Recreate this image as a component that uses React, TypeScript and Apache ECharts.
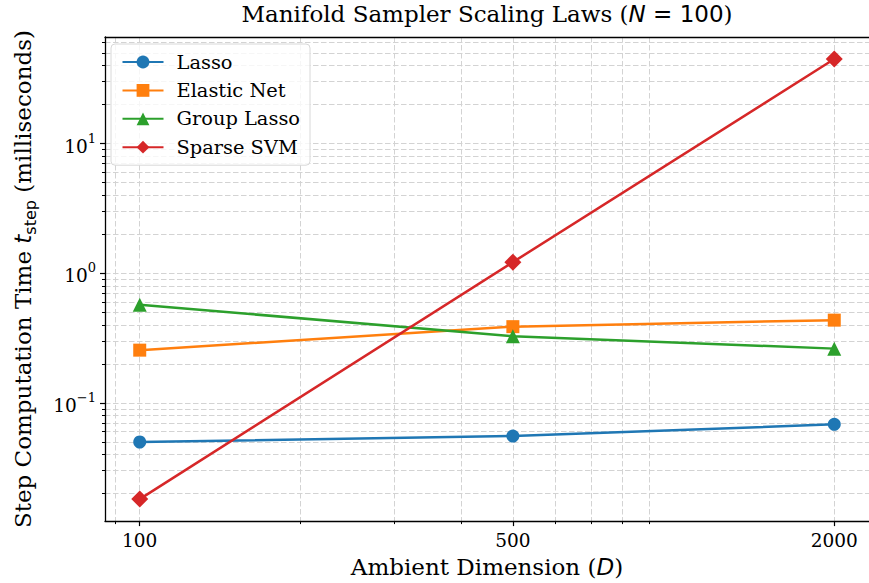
import React, { useEffect, useRef } from "react";
import * as echarts from "echarts";

// ---- data ----
const dims = [100, 500, 2000];
const seriesNames = ["Lasso", "Elastic Net", "Group Lasso", "Sparse SVM"];
const lasso = [0.0499, 0.0555, 0.0683];
const elasticNet = [0.255, 0.387, 0.4345];
const groupLasso = [0.571, 0.327, 0.262];
const sparseSVM = [0.0181, 1.217, 44.9];

const xMajorTicks = [100, 500, 2000];
const xMinorTicks = [90, 200, 300, 400, 600, 700, 800, 900];
const yMajorTicks = [0.1, 1, 10];
const yMinorTicks = [
  0.02, 0.03, 0.04, 0.05, 0.06, 0.07, 0.08, 0.09,
  0.2, 0.3, 0.4, 0.5, 0.6, 0.7, 0.8, 0.9,
  2, 3, 4, 5, 6, 7, 8, 9,
  20, 30, 40, 50, 60,
];

const colors = ["#1f77b4", "#ff7f0e", "#2ca02c", "#d62728"];
const symbols = ["circle", "rect", "triangle", "diamond"];
const symbolSizes = [13, 13, 14, 17];

const SERIF = "DejaVu Serif";
const SANS = "DejaVu Sans";

function logLimits(values: number[]): [number, number] {
  const lo = Math.log10(Math.min(...values));
  const hi = Math.log10(Math.max(...values));
  const m = (hi - lo) * 0.05;
  return [Math.pow(10, lo - m), Math.pow(10, hi + m)];
}

export default function App() {
  const ref = useRef<HTMLDivElement>(null);

  useEffect(() => {
    if (!ref.current) return;
    const chart = echarts.init(ref.current, undefined, { renderer: "svg" });
    const allSeries = [lasso, elasticNet, groupLasso, sparseSVM];
    const [xMin, xMax] = logLimits(dims);
    const [yMin, yMax] = logLimits(allSeries.flat());

    const gridLine = { show: true, lineStyle: { color: "#d3d3d3", width: 1, type: [5.5, 2.5] as any } };
    const spine = { show: true, lineStyle: { color: "#000", width: 1.3 } };
    const TICK_FS = 18.5;
    const LABEL_FS = 23;
    const tickLabelStyle = { fontFamily: SERIF, fontSize: TICK_FS, color: "#000" };

    const supFmt = (v: number) => {
      const e = Math.round(Math.log10(v));
      return `{b|10}{s|${e < 0 ? "\u2212" : ""}${Math.abs(e)}}`;
    };

    const option: any = {
      animation: false,
      backgroundColor: "#ffffff",
      grid: { left: 105, top: 37, width: 765, height: 484.5, containLabel: false },
      graphic: [
        {
          type: "text",
          x: 487,
          y: 14,
          style: {
            text: "Manifold Sampler Scaling Laws ({mi|N}{m| = 100})",
            fontFamily: SERIF,
            fontSize: LABEL_FS,
            fill: "#000",
            textAlign: "center",
            textVerticalAlign: "middle",
            rich: {
              mi: { fontFamily: SANS, fontStyle: "italic", fontSize: LABEL_FS, fill: "#000" },
              m: { fontFamily: SANS, fontSize: LABEL_FS, fill: "#000" },
            },
          },
        },
      ],
      legend: {
        data: seriesNames,
        orient: "vertical",
        left: 111,
        top: 44,
        itemWidth: 41,
        itemHeight: 16,
        itemGap: 8.4,
        padding: [8, 10, 8, 10.5],
        backgroundColor: "rgba(255,255,255,0.8)",
        borderColor: "#d8d8d8",
        borderWidth: 1,
        borderRadius: 4,
        textStyle: { fontFamily: SERIF, fontSize: 19.4, color: "#000", lineHeight: 20, padding: [0, 0, 0, 8] },
      },
      xAxis: [
        {
          type: "log",
          min: xMin,
          max: xMax,
          position: "bottom",
          axisLine: spine,
          axisTick: { show: true, customValues: [...xMajorTicks, ...xMinorTicks], length: 3, lineStyle: { color: "#000", width: 1 } },
          axisLabel: { show: false },
          splitLine: gridLine,
        },
        {
          type: "log",
          min: xMin,
          max: xMax,
          position: "bottom",
          axisLine: { show: false },
          axisTick: { show: true, customValues: xMajorTicks, length: 5, lineStyle: { color: "#000", width: 1.2 } },
          axisLabel: { show: true, customValues: xMajorTicks, margin: 10, formatter: (v: number) => String(Math.round(v)), ...tickLabelStyle },
          splitLine: { show: false },
          name: "Ambient Dimension ({mi|D})",
          nameLocation: "middle",
          nameGap: 28,
          nameTextStyle: {
            fontFamily: SERIF,
            fontSize: LABEL_FS,
            color: "#000",
            rich: { mi: { fontFamily: SANS, fontStyle: "italic", fontSize: LABEL_FS, color: "#000" } },
          },
        },
        {
          type: "log",
          min: xMin,
          max: xMax,
          position: "top",
          axisLine: spine,
          axisTick: { show: false },
          axisLabel: { show: false },
          splitLine: { show: false },
        },
      ],
      yAxis: [
        {
          type: "log",
          min: yMin,
          max: yMax,
          position: "left",
          axisLine: spine,
          axisTick: { show: true, customValues: [...yMajorTicks, ...yMinorTicks], length: 3, lineStyle: { color: "#000", width: 1 } },
          axisLabel: { show: false },
          splitLine: gridLine,
        },
        {
          type: "log",
          min: yMin,
          max: yMax,
          position: "left",
          axisLine: { show: false },
          axisTick: { show: true, customValues: yMajorTicks, length: 5, lineStyle: { color: "#000", width: 1.2 } },
          axisLabel: {
            show: true,
            customValues: yMajorTicks,
            margin: 9,
            formatter: supFmt,
            rich: {
              b: { fontFamily: SERIF, fontSize: TICK_FS, color: "#000", lineHeight: 24, verticalAlign: "bottom" },
              s: { fontFamily: SERIF, fontSize: 13, color: "#000", lineHeight: 24, verticalAlign: "top" },
            },
          },
          splitLine: { show: false },
          name: "Step Computation Time {mi|t}{sub|step} (milliseconds)",
          nameLocation: "middle",
          nameRotate: 90,
          nameGap: 67,
          nameTextStyle: {
            fontFamily: SERIF,
            fontSize: LABEL_FS,
            color: "#000",
            lineHeight: 30,
            rich: {
              mi: { fontFamily: SANS, fontStyle: "italic", fontSize: LABEL_FS, color: "#000", lineHeight: 30 },
              sub: { fontFamily: SANS, fontSize: 16, color: "#000", lineHeight: 30, verticalAlign: "bottom" },
            },
          },
        },
      ],
      series: allSeries.map((vals, i) => ({
        name: seriesNames[i],
        type: "line",
        xAxisIndex: 0,
        yAxisIndex: 0,
        data: dims.map((d, j) => [d, vals[j]]),
        symbol: symbols[i],
        symbolSize: symbolSizes[i],
        showSymbol: true,
        color: colors[i],
        itemStyle: { color: colors[i] },
        lineStyle: { color: colors[i], width: 2.5 },
        z: 3,
      })),
    };

    chart.setOption(option);
    return () => chart.dispose();
  }, []);

  return <div ref={ref} style={{ width: 869, height: 583, position: "absolute", left: 0, top: 0 }} />;
}
